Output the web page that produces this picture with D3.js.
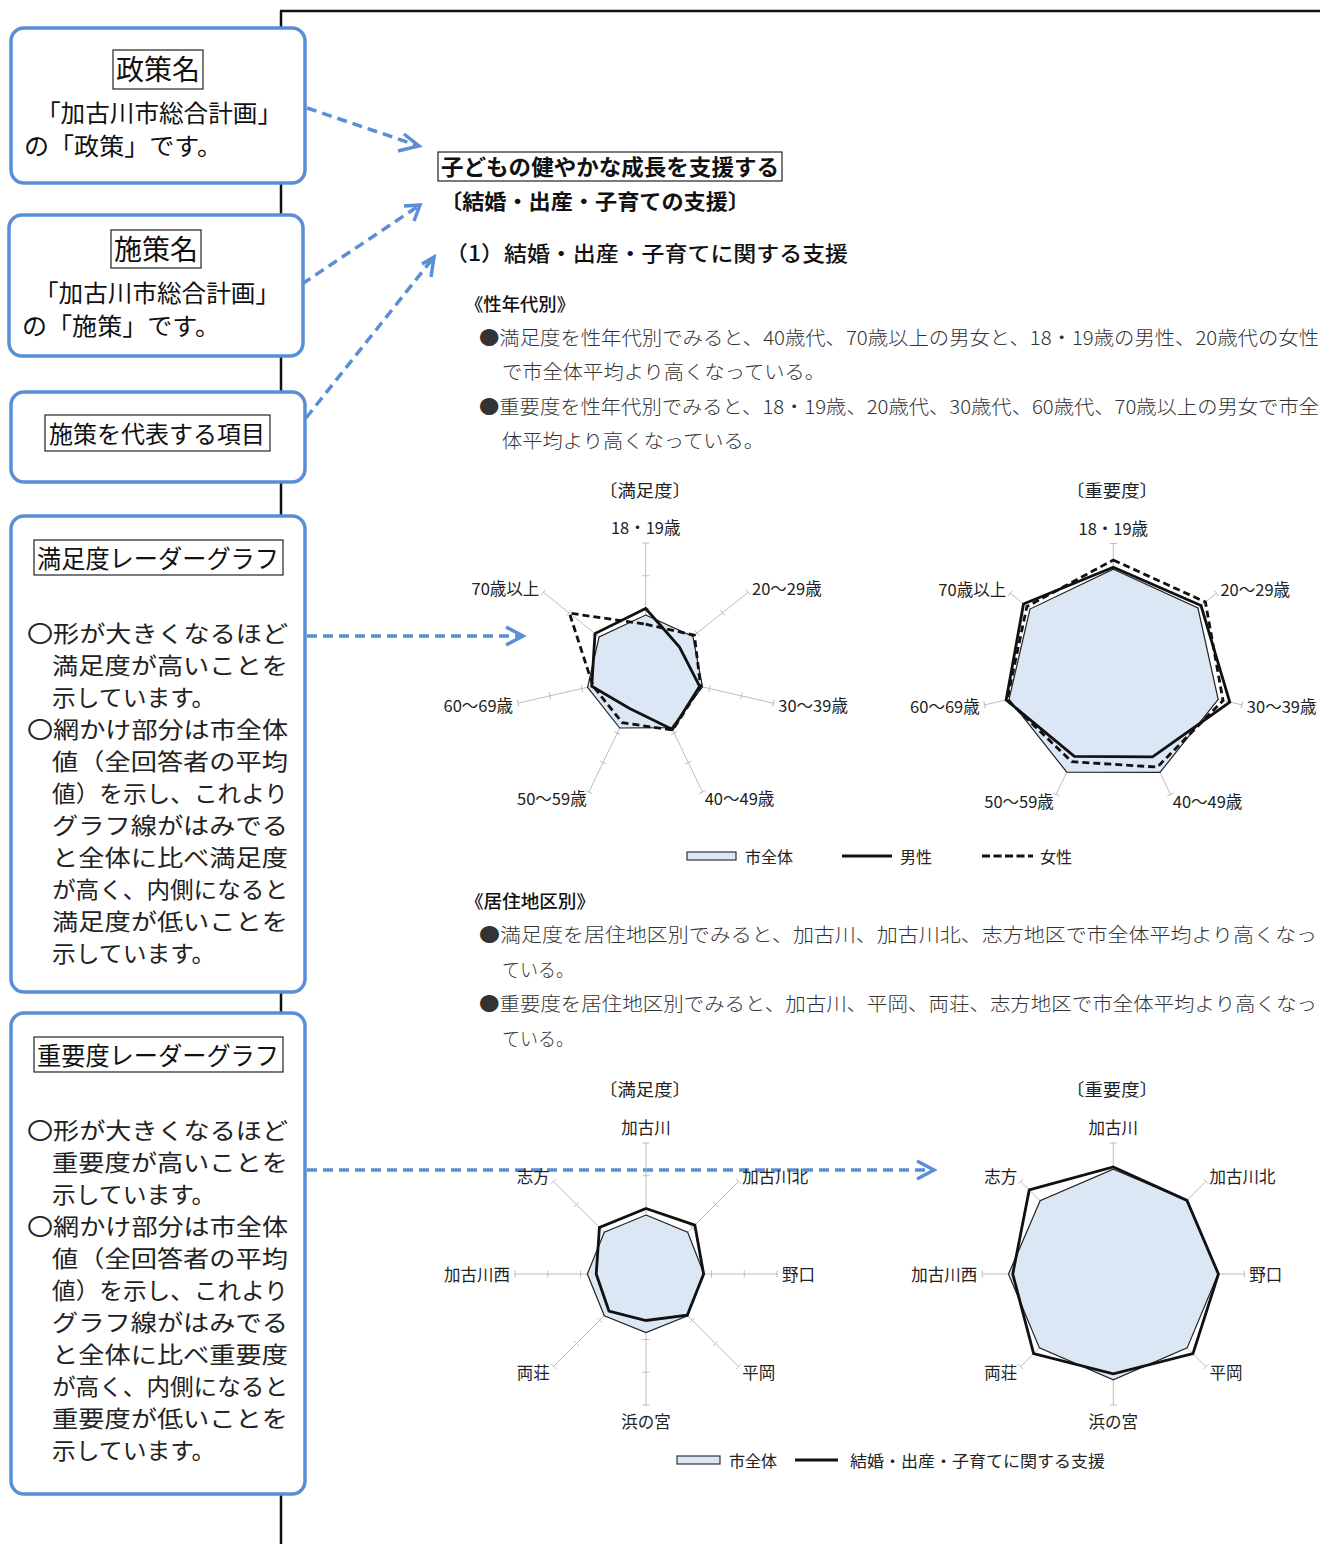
<!DOCTYPE html>
<html><head><meta charset="utf-8">
<script src="https://cdn.jsdelivr.net/npm/d3@7"></script>
<style>
html,body{margin:0;padding:0;background:#fff;}
svg{display:block;}
text{font-family:"Noto Sans CJK JP","Noto Sans",sans-serif;}
</style></head>
<body>
<script>
// ---------------- DATA ----------------
const ageAxes = ["18・19歳","20～29歳","30～39歳","40～49歳","50～59歳","60～69歳","70歳以上"];
const ageSatAll    = [1.80,1.84,1.78,1.82,1.83,1.82,1.82];
const ageSatMale   = [2.00,1.32,1.69,1.88,1.16,1.69,1.98];
const ageSatFemale = [1.52,1.90,1.72,1.90,1.65,1.65,2.98];
const ageImpAll    = [3.22,3.28,3.26,3.26,3.25,3.24,3.23];
const ageImpMale   = [3.28,3.40,3.62,2.74,2.72,3.33,3.48];
const ageImpFemale = [3.50,3.57,3.41,3.08,2.90,3.30,3.35];

const regionAxes = ["加古川","加古川北","野口","平岡","浜の宮","両荘","加古川西","志方"];
const regSatAll  = [1.80,1.80,1.77,1.80,1.79,1.80,1.79,1.80];
const regSatItem = [2.00,2.11,1.76,1.78,1.42,1.60,1.52,2.01];
const regImpAll  = [3.20,3.18,3.20,3.19,3.23,3.19,3.20,3.16];
const regImpItem = [3.27,3.18,3.21,3.44,3.05,3.44,3.07,3.63];

const gridTicks = [1,2,3,4];
const scaleMax = 4;

const legendAge = ["市全体","男性","女性"];
const legendRegion = ["市全体","結婚・出産・子育てに関する支援"];

// ---------------- DRAW ----------------
const W = 1320, H = 1544;
const svg = d3.select("body").append("svg").attr("width", W).attr("height", H);
const BLUE = "#5a8fd6";

function txt(x, y, s, o = {}) {
  const t = svg.append("text").attr("x", x).attr("y", y).text(s)
    .attr("font-size", o.size || 16)
    .attr("font-weight", o.weight || 400)
    .attr("fill", o.fill || "#111")
    .attr("text-anchor", o.anchor || "start");
  if (o.len) t.attr("textLength", o.len).attr("lengthAdjust", "spacingAndGlyphs");
  if (o.db) t.attr("dominant-baseline", o.db);
  return t;
}

// frame lines
svg.append("line").attr("x1", 281).attr("y1", 11).attr("x2", 281).attr("y2", H)
  .attr("stroke", "#111").attr("stroke-width", 2.5);
svg.append("line").attr("x1", 280).attr("y1", 11).attr("x2", W).attr("y2", 11)
  .attr("stroke", "#111").attr("stroke-width", 2.5);

// blue boxes
function blueBox(x, y, w, h) {
  svg.append("rect").attr("x", x).attr("y", y).attr("width", w).attr("height", h)
    .attr("rx", 13).attr("fill", "#fff").attr("stroke", BLUE).attr("stroke-width", 3.5);
}
function titleRect(x, y, w, h) {
  svg.append("rect").attr("x", x).attr("y", y).attr("width", w).attr("height", h)
    .attr("fill", "none").attr("stroke", "#222").attr("stroke-width", 1.2);
}

blueBox(11, 28, 294, 155);
titleRect(113, 50, 90, 39);
txt(158, 80, "政策名", {size: 28, anchor: "middle", len: 84});
txt(36, 122, "「加古川市総合計画」", {size: 24, len: 246});
txt(24, 155, "の「政策」です。", {size: 24, len: 198});

blueBox(9, 215, 294, 141);
titleRect(111, 230, 90, 38);
txt(156, 260, "施策名", {size: 28, anchor: "middle", len: 84});
txt(34, 302, "「加古川市総合計画」", {size: 24, len: 246});
txt(22, 335, "の「施策」です。", {size: 24, len: 198});

blueBox(11, 392, 294, 90);
titleRect(45, 415, 225, 36);
txt(157, 443, "施策を代表する項目", {size: 24, anchor: "middle", len: 216});

function explainBox(y0, word, lines) {
  blueBox(11, y0, 294, y0 === 516 ? 476 : 481);
  titleRect(34, y0 + 24, 249, 35);
  txt(158, y0 + 52, word + "レーダーグラフ", {size: 25, anchor: "middle", len: 242});
  lines.forEach((l, i) => {
    const y = y0 + 126 + i * 32;
    const x = l.s.startsWith("〇") ? 27 : 52;
    const len = l.last ? l.s.length * 24.2 - 6 : (288 - x);
    txt(x, y, l.s, {size: 23, len: len, fill: "#222"});
  });
}
function explainLines(word) {
  return [
    {s: "〇形が大きくなるほど"},
    {s: word + "が高いことを"},
    {s: "示しています。", last: true},
    {s: "〇網かけ部分は市全体"},
    {s: "値（全回答者の平均"},
    {s: "値）を示し、これより"},
    {s: "グラフ線がはみでる"},
    {s: "と全体に比べ" + word},
    {s: "が高く、内側になると"},
    {s: word + "が低いことを"},
    {s: "示しています。", last: true}
  ];
}
explainBox(516, "満足度", explainLines("満足度"));
explainBox(1013, "重要度", explainLines("重要度"));

// arrows
function arrow(x1, y1, x2, y2, a1, a2) {
  svg.append("line").attr("x1", x1).attr("y1", y1).attr("x2", x2).attr("y2", y2)
    .attr("stroke", BLUE).attr("stroke-width", 3.5).attr("stroke-dasharray", "10,6");
  svg.append("polyline").attr("points", [a1, [x2, y2], a2].map(p => p.join(",")).join(" "))
    .attr("fill", "none").attr("stroke", BLUE).attr("stroke-width", 3.5)
    .attr("stroke-linejoin", "miter");
}
arrow(307, 108, 419, 146, [404, 134], [398, 151]);
arrow(302, 284, 420, 205, [404, 206], [414, 221]);
arrow(306, 418, 434, 257, [422, 264], [431, 277]);
arrow(307, 636, 523, 636, [506, 627], [506, 645]);
arrow(307, 1170, 934, 1170, [917, 1161], [917, 1179]);

// right side headings
titleRect(438, 152, 344, 29);
txt(441, 175, "子どもの健やかな成長を支援する", {size: 22, weight: 700, len: 338});
txt(440, 209, "〔結婚・出産・子育ての支援〕", {size: 21, weight: 700, len: 310});
txt(445, 261, "（1）結婚・出産・子育てに関する支援", {size: 21, weight: 500, len: 403});
txt(465, 311, "《性年代別》", {size: 18, weight: 500, len: 110});

const BODY = {size: 19, weight: 300, fill: "#333"};
txt(479, 345, "●満足度を性年代別でみると、40歳代、70歳以上の男女と、18・19歳の男性、20歳代の女性", Object.assign({len: 840}, BODY));
txt(502, 379, "で市全体平均より高くなっている。", Object.assign({len: 323}, BODY));
txt(479, 414, "●重要度を性年代別でみると、18・19歳、20歳代、30歳代、60歳代、70歳以上の男女で市全", Object.assign({len: 840}, BODY));
txt(502, 448, "体平均より高くなっている。", Object.assign({len: 262}, BODY));

txt(465, 908, "《居住地区別》", {size: 18, weight: 500, len: 130});
txt(479, 942, "●満足度を居住地区別でみると、加古川、加古川北、志方地区で市全体平均より高くなっ", Object.assign({len: 838}, BODY));
txt(502, 977, "ている。", Object.assign({len: 72}, BODY));
txt(479, 1011, "●重要度を居住地区別でみると、加古川、平岡、両荘、志方地区で市全体平均より高くなっ", Object.assign({len: 838}, BODY));
txt(502, 1046, "ている。", Object.assign({len: 72}, BODY));

// chart titles
txt(645, 497, "〔満足度〕", {size: 17, anchor: "middle", len: 92, fill: "#222"});
txt(1112, 497, "〔重要度〕", {size: 17, anchor: "middle", len: 92, fill: "#222"});
txt(645, 1096, "〔満足度〕", {size: 17, anchor: "middle", len: 92, fill: "#222"});
txt(1112, 1096, "〔重要度〕", {size: 17, anchor: "middle", len: 92, fill: "#222"});

// radar
function radar(cx, cy, R, axes, series) {
  const g = svg.append("g").attr("transform", `translate(${cx},${cy})`);
  const n = axes.length;
  const r = d3.scaleLinear().domain([0, scaleMax]).range([0, R]);
  const ang = d3.scaleLinear().domain([0, n]).range([0, 2 * Math.PI]);
  axes.forEach((a, i) => {
    const t = ang(i), sx = Math.sin(t), cyy = -Math.cos(t);
    g.append("line").attr("x1", 0).attr("y1", 0).attr("x2", sx * R).attr("y2", cyy * R)
      .attr("stroke", "#bdbdbd").attr("stroke-width", 1);
    gridTicks.forEach(v => {
      const px = sx * r(v), py = cyy * r(v);
      const qx = Math.cos(t) * 3.5, qy = Math.sin(t) * 3.5;
      g.append("line").attr("x1", px - qx).attr("y1", py - qy).attr("x2", px + qx).attr("y2", py + qy)
        .attr("stroke", "#bdbdbd").attr("stroke-width", 1);
    });
  });
  series.forEach(s => {
    const line = d3.lineRadial().angle((d, i) => ang(i)).radius(d => r(d)).curve(d3.curveLinearClosed);
    g.append("path").attr("d", line(s.values))
      .attr("fill", s.fill || "none")
      .attr("stroke", s.stroke || "#111")
      .attr("stroke-width", s.width || 1)
      .attr("stroke-dasharray", s.dash || null)
      .attr("stroke-linejoin", "miter");
  });
  axes.forEach((a, i) => {
    const t = ang(i), sn = Math.sin(t), cs = Math.cos(t);
    const x = sn * (R + 5);
    let y = -cs * (R + 7);
    if (Math.abs(cs) > 0.95) y -= Math.sign(cs) * 9;
    const anchor = sn > 0.1 ? "start" : (sn < -0.1 ? "end" : "middle");
    g.append("text").attr("x", x).attr("y", y).text(a)
      .attr("font-size", 16.5).attr("fill", "#222").attr("text-anchor", anchor)
      .attr("dominant-baseline", "central");
  });
}
const FILL = "#dbe7f4";
radar(645.7, 674, 131, ageAxes, [
  {values: ageSatAll, fill: FILL, stroke: "#222", width: 1.2},
  {values: ageSatMale, width: 2.8},
  {values: ageSatFemale, width: 2.8, dash: "7,4"}
]);
radar(1113.3, 675.5, 132, ageAxes, [
  {values: ageImpAll, fill: FILL, stroke: "#222", width: 1.2},
  {values: ageImpMale, width: 2.8},
  {values: ageImpFemale, width: 2.8, dash: "7,4"}
]);
radar(646, 1274, 131, regionAxes, [
  {values: regSatAll, fill: FILL, stroke: "#222", width: 1.2},
  {values: regSatItem, width: 2.8}
]);
radar(1113.3, 1274, 131, regionAxes, [
  {values: regImpAll, fill: FILL, stroke: "#222", width: 1.2},
  {values: regImpItem, width: 2.8}
]);

// legends
svg.append("rect").attr("x", 687).attr("y", 852).attr("width", 49).attr("height", 8)
  .attr("fill", FILL).attr("stroke", "#333").attr("stroke-width", 1.2);
txt(745, 856, legendAge[0], {size: 16, db: "central", fill: "#222"});
svg.append("line").attr("x1", 842).attr("y1", 856).attr("x2", 892).attr("y2", 856)
  .attr("stroke", "#111").attr("stroke-width", 2.8);
txt(900, 856, legendAge[1], {size: 16, db: "central", fill: "#222"});
svg.append("line").attr("x1", 982).attr("y1", 856).attr("x2", 1033).attr("y2", 856)
  .attr("stroke", "#111").attr("stroke-width", 2.8).attr("stroke-dasharray", "8,3.5");
txt(1040, 856, legendAge[2], {size: 16, db: "central", fill: "#222"});

svg.append("rect").attr("x", 677).attr("y", 1456).attr("width", 43).attr("height", 8)
  .attr("fill", FILL).attr("stroke", "#333").attr("stroke-width", 1.2);
txt(729, 1460, legendRegion[0], {size: 16, db: "central", fill: "#222"});
svg.append("line").attr("x1", 795).attr("y1", 1460).attr("x2", 838).attr("y2", 1460)
  .attr("stroke", "#111").attr("stroke-width", 2.8);
txt(850, 1460, legendRegion[1], {size: 16, db: "central", fill: "#222", len: 255});
</script>
</body></html>
